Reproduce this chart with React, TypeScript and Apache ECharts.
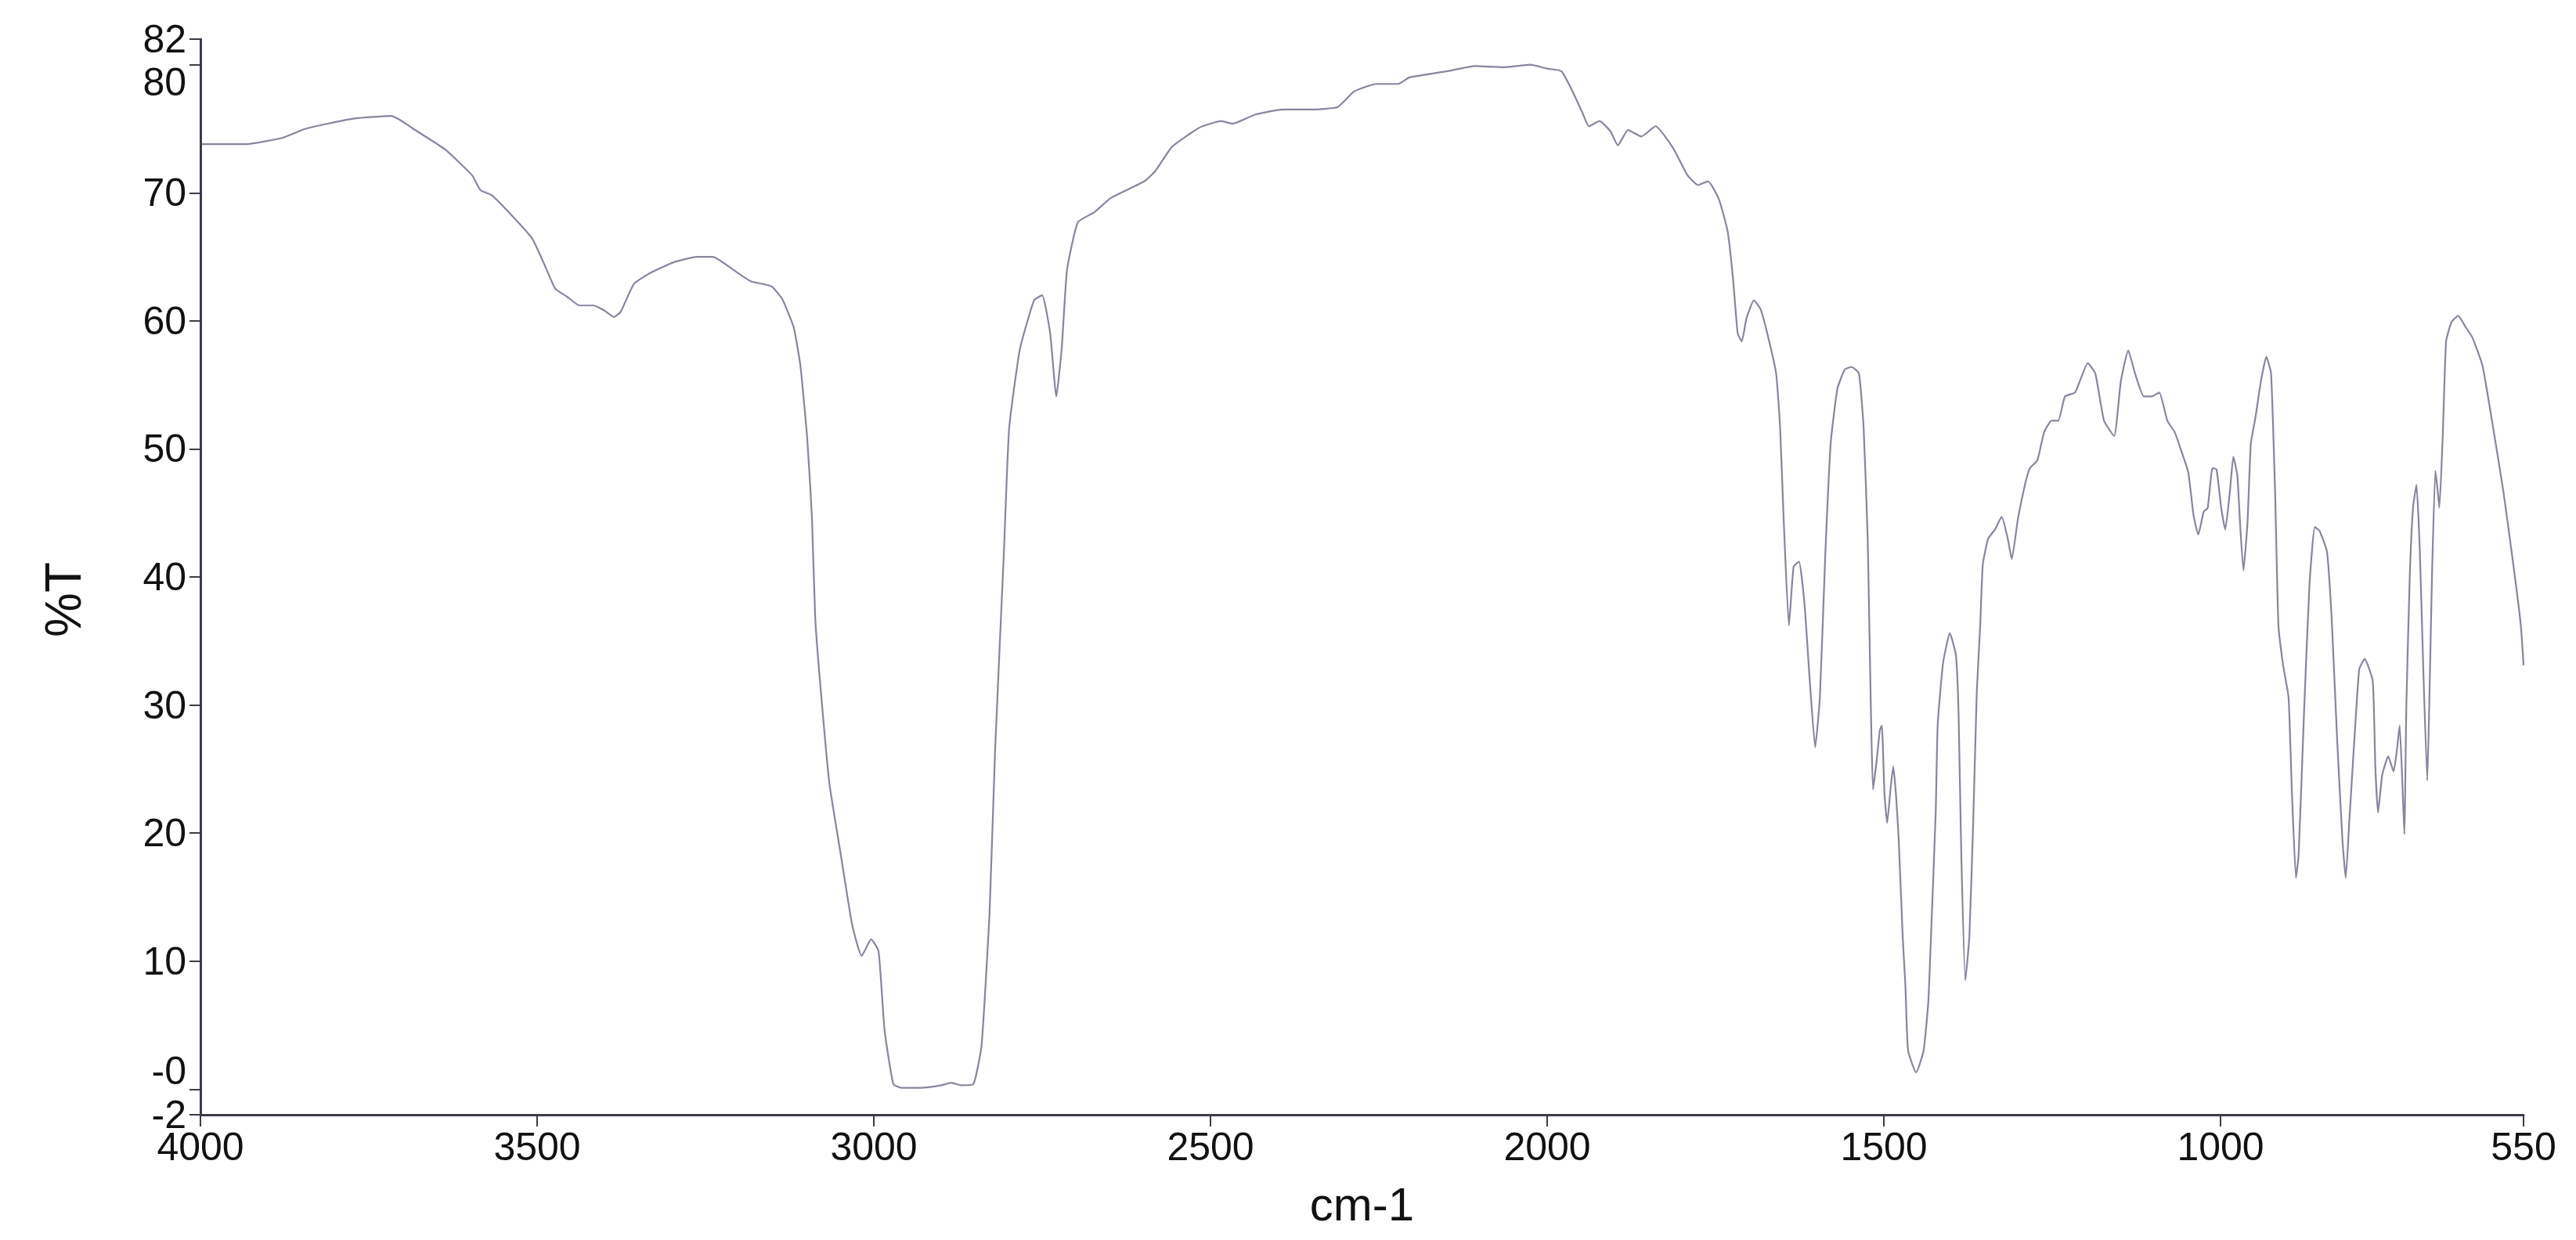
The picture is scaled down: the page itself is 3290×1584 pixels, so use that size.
import React, { useEffect, useRef } from "react";
import * as echarts from "echarts";

// Wavenumber (cm-1), descending from 4000 to 550
const WAVENUMBER = [
  3998, 3931, 3878, 3844, 3811, 3771, 3717, 3704, 3684, 3637, 3597, 3584, 3567, 3530, 3507, 3490,
  3473, 3456, 3437, 3416, 3400, 3386, 3376, 3356, 3330, 3296, 3263, 3239, 3209, 3183, 3152, 3136,
  3119, 3109, 3099, 3092, 3087, 3079, 3066, 3049, 3032, 3018, 3004, 2993, 2984, 2971, 2959, 2930,
  2900, 2885, 2870, 2852, 2840, 2828, 2820, 2807, 2799, 2783, 2762, 2750, 2738, 2729, 2721, 2713,
  2697, 2672, 2648, 2598, 2582, 2557, 2516, 2484, 2467, 2434, 2393, 2352, 2311, 2287, 2254, 2221,
  2205, 2148, 2107, 2066, 2025, 2000, 1979, 1964, 1948, 1938, 1922, 1906, 1895, 1880, 1860, 1839,
  1813, 1792, 1776, 1761, 1745, 1732, 1724, 1717, 1711, 1704, 1693, 1683, 1673, 1660, 1654, 1649,
  1641, 1634, 1626, 1618, 1610, 1602, 1595, 1587, 1579, 1569, 1558, 1548, 1537, 1530, 1524, 1516,
  1511, 1506, 1503, 1499, 1495, 1490, 1486, 1482, 1478, 1472, 1468, 1464, 1452, 1441, 1434, 1430,
  1423, 1420, 1412, 1402, 1393, 1389, 1385, 1379, 1373, 1367, 1362, 1357, 1353, 1345, 1335, 1325,
  1316, 1310, 1301, 1290, 1283, 1272, 1262, 1251, 1241, 1231, 1216, 1197, 1186, 1173, 1158, 1148,
  1137, 1127, 1114, 1102, 1091, 1079, 1068, 1058, 1048, 1040, 1033, 1025, 1019, 1012, 1006, 999,
  993, 986, 981, 975, 971, 966, 960, 955, 948, 940, 932, 925, 919, 914, 907, 899,
  894, 888, 884, 876, 868, 860, 853, 842, 835, 827, 819, 814, 809, 801, 794, 786,
  774, 770, 766, 760, 751, 743, 738, 734, 730, 727, 724, 719, 714, 709, 704, 699,
  693, 690, 686, 681, 678, 675, 670, 665, 657, 647, 637, 626, 611, 595, 580, 564,
  554, 550,
];

// Transmittance (%T) at each wavenumber
const TRANSMITTANCE = [
  73.8, 73.8, 74.3, 75.0, 75.4, 75.8, 76.0, 75.7, 75.0, 73.4, 71.4, 70.2, 69.8, 67.8, 66.4, 64.5,
  62.5, 61.9, 61.2, 61.2, 60.8, 60.3, 60.7, 62.9, 63.8, 64.6, 65.0, 65.0, 64.0, 63.1, 62.7, 61.7,
  59.5, 56.5, 50.9, 44.8, 36.8, 31.3, 23.9, 18.3, 12.8, 10.4, 11.7, 10.8, 4.6, 0.4, 0.1, 0.1,
  0.3, 0.5, 0.3, 0.4, 3.4, 13.9, 26.3, 41.7, 51.6, 57.8, 61.6, 62.0, 59.0, 54.1, 57.8, 64.0,
  67.7, 68.5, 69.6, 70.9, 71.7, 73.6, 75.1, 75.6, 75.4, 76.1, 76.5, 76.5, 76.7, 77.9, 78.5, 78.5,
  79.0, 79.5, 79.9, 79.8, 80.0, 79.7, 79.5, 78.1, 76.3, 75.2, 75.6, 74.8, 73.7, 74.9, 74.4, 75.2,
  73.5, 71.4, 70.6, 70.9, 69.5, 67.0, 63.3, 59.0, 58.4, 60.2, 61.6, 60.9, 59.0, 55.9, 51.6, 44.8,
  36.2, 40.8, 41.2, 38.0, 31.9, 26.7, 30.6, 41.7, 50.4, 54.7, 56.2, 56.4, 55.9, 51.6, 43.0, 23.4,
  25.5, 28.0, 28.4, 23.0, 20.8, 23.5, 25.2, 23.0, 19.6, 11.9, 8.1, 3.0, 1.3, 3.0, 6.8, 11.9,
  21.6, 28.5, 33.3, 35.6, 33.9, 29.3, 18.3, 8.5, 11.9, 21.4, 31.0, 36.1, 41.0, 43.0, 43.7, 44.7,
  43.0, 41.4, 44.5, 47.3, 48.5, 49.1, 51.3, 52.2, 52.2, 54.1, 54.4, 56.7, 55.9, 52.2, 51.0, 55.3,
  57.7, 55.9, 54.1, 54.1, 54.4, 52.2, 51.3, 49.8, 48.2, 44.8, 43.3, 45.1, 45.4, 48.5, 48.4, 45.4,
  43.7, 46.7, 49.4, 47.9, 44.2, 40.5, 44.2, 50.4, 52.5, 55.3, 57.2, 55.9, 46.7, 36.2, 33.1, 30.6,
  23.2, 16.5, 18.3, 29.4, 39.3, 43.9, 43.6, 42.0, 36.8, 27.5, 19.5, 16.5, 20.7, 27.5, 32.8, 33.6,
  31.9, 25.0, 21.6, 24.5, 26.0, 24.8, 26.5, 28.4, 24.0, 19.9, 30.0, 40.0, 45.5, 47.2, 42.0, 33.0,
  24.1, 30.0, 40.0, 48.3, 47.0, 45.4, 51.0, 58.4, 59.9, 60.4, 59.6, 58.7, 56.5, 51.6, 46.7, 40.5,
  36.2, 33.1,
];

const X_TICKS = [4000, 3500, 3000, 2500, 2000, 1500, 1000, 550];
const Y_TICKS = [-2, 0, 10, 20, 30, 40, 50, 60, 70, 80, 82];
// Label anchors: "-0" and "80" sit nudged away from their crowded neighbours, as in the original
const Y_LABEL_POS = [-2, 1.4, 10, 20, 30, 40, 50, 60, 70, 78.65, 82];
const Y_LABEL_TEXT = ["-2", "-0", "10", "20", "30", "40", "50", "60", "70", "80", "82"];

const X_TITLE = "cm-1";
const Y_TITLE = "%T";

export default function App() {
  const ref = useRef<HTMLDivElement>(null);

  useEffect(() => {
    if (!ref.current) return;
    const chart = echarts.init(ref.current, null, { renderer: "svg" });
    const points = WAVENUMBER.map((w, i) => [w, TRANSMITTANCE[i]]);
    const font = "Liberation Sans, Arial, Helvetica, sans-serif";
    const axisColor = "#3a3d48";

    chart.setOption({
      animation: false,
      backgroundColor: "#ffffff",
      grid: {
        left: 256,
        right: 67,
        top: 50,
        bottom: 160,
        containLabel: false,
        outerBoundsMode: "none",
      },
      xAxis: {
        type: "value",
        inverse: true,
        min: 550,
        max: 4000,
        name: X_TITLE,
        nameLocation: "middle",
        nameGap: 84,
        nameTextStyle: { fontFamily: font, fontSize: 60, color: "#111" },
        axisLine: { show: true, onZero: false, lineStyle: { color: axisColor, width: 3 } },
        axisTick: {
          show: true,
          length: 15,
          customValues: X_TICKS,
          lineStyle: { color: axisColor, width: 2 },
        },
        axisLabel: {
          customValues: X_TICKS,
          margin: 16,
          fontFamily: font,
          fontSize: 50,
          color: "#111",
          hideOverlap: false,
          showMinLabel: true,
          showMaxLabel: true,
          formatter: (v: number) => String(v),
        },
        splitLine: { show: false },
      },
      yAxis: {
        type: "value",
        min: -2,
        max: 82,
        name: Y_TITLE,
        nameLocation: "middle",
        nameRotate: 90,
        nameGap: 143,
        nameTextStyle: {
          fontFamily: font,
          fontSize: 64,
          color: "#111",
          padding: [0, 58, 0, 0],
        },
        axisLine: { show: true, onZero: false, lineStyle: { color: axisColor, width: 3 } },
        axisTick: {
          show: true,
          length: 14,
          customValues: Y_TICKS,
          lineStyle: { color: axisColor, width: 2 },
        },
        axisLabel: {
          customValues: Y_LABEL_POS,
          margin: 18,
          fontFamily: font,
          fontSize: 50,
          color: "#111",
          hideOverlap: false,
          showMinLabel: true,
          showMaxLabel: true,
          formatter: (v: number) => {
            const i = Y_LABEL_POS.findIndex((p) => Math.abs(p - v) < 1e-6);
            return i >= 0 ? Y_LABEL_TEXT[i] : "";
          },
        },
        splitLine: { show: false },
      },
      series: [
        {
          type: "line",
          data: points,
          showSymbol: false,
          symbol: "none",
          silent: true,
          smooth: 0.15,
          lineStyle: { color: "#86869f", width: 2.2 },
        },
      ],
    });

    return () => chart.dispose();
  }, []);

  return (
    <div
      ref={ref}
      style={{ position: "fixed", left: 0, top: 0, width: 3290, height: 1584, background: "#fff" }}
    />
  );
}
